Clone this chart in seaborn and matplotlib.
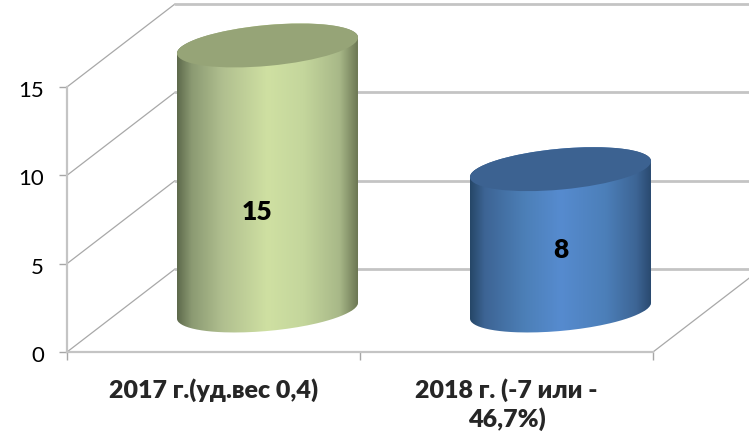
import numpy as np
import pandas as pd
import seaborn as sns
import matplotlib.pyplot as plt
from matplotlib.colors import LinearSegmentedColormap
from matplotlib.patches import Ellipse, PathPatch
from matplotlib.path import Path
from matplotlib.transforms import Affine2D, IdentityTransform

# data
categories = ['2017 г.(уд.вес 0,4)', '2018 г. (-7 или -\n46,7%)']
values = [15, 8]
value_labels = ['15', '8']
y_ticks = [0, 5, 10, 15]

# colours: bar base, top cap, side gradient
base_colors = ['#b8c898', '#4f81bd']
cap_colors = ['#96a477', '#3c6291']
side_colors = [
    [(0, '#5e6a4c'), (.08, '#8b9a72'), (.25, '#b0bf8f'), (.5, '#cfe0a2'),
     (.7, '#c4d69c'), (.9, '#a8b888'), (1, '#6d7854')],
    [(0, '#264768'), (.08, '#3d6494'), (.3, '#4c7fb7'), (.5, '#568bcf'),
     (.75, '#4c7fb9'), (.92, '#3d6595'), (1, '#2a4a70')],
]

W, H = 749, 436
sns.set_style('white')
plt.rcParams['font.family'] = ['Lato', 'Open Sans', 'DejaVu Sans']

fig = plt.figure(figsize=(W / 100, H / 100), dpi=100)

# front plane of the 3d box, in pixels
x0, x1, y0, px_per_unit = 67, 653, 352, 17.67
depth_px_x, depth_px_y = 108, 83
h15 = 15 * px_per_unit


def place(left, bottom):
    return [left / W, (H - bottom) / H, (x1 - x0) / W, h15 / H]


ax = fig.add_axes(place(x0, y0))
ax.set_xlim(0, 2)
ax.set_ylim(0, 15)
ax.patch.set_alpha(0)
sns.despine(ax=ax)
grid_c = '#c4c4c4'
for s in ['left', 'bottom']:
    ax.spines[s].set_color(grid_c)
    ax.spines[s].set_linewidth(1.6)
ax.set_yticks(y_ticks)
ax.set_xticks([0, 1, 2])
ax.set_xticklabels([])
ax.set_xticks([0.5, 1.5], labels=categories, minor=True, fontweight='heavy',
              linespacing=1.25, va='top')
ax.tick_params(axis='both', which='major', length=5.5, width=1, color='#a6a6a6',
               left=True, bottom=True, labelsize=16, labelcolor='black')
ax.tick_params(axis='y', pad=11)
ax.tick_params(axis='x', which='minor', length=0, pad=19, labelsize=18)
# numbers sit a little below their ticks in the original
for t in ax.get_yticklabels():
    t.set_transform(t.get_transform() + Affine2D().translate(0, -2))

# walls of the box
dx = depth_px_x / ((x1 - x0) / 2)
dy = depth_px_y / px_per_unit
for v in y_ticks:
    ax.plot([0, dx], [v, v + dy], color='#a8a8a8', lw=0.9, clip_on=False, zorder=1)
    ax.plot([dx, 2 + dx], [v + dy, v + dy], color=grid_c, lw=2, clip_on=False, zorder=1)
ax.plot([2, 2 + dx], [0, dy], color='#a8a8a8', lw=0.9, clip_on=False, zorder=1)

# bars sit half way into the depth of the box
ax2 = fig.add_axes(place(x0 + depth_px_x / 2, y0 - depth_px_y / 2))
ax2.set_zorder(3)
ax2.patch.set_alpha(0)
df = pd.DataFrame({'cat': categories, 'val': values})
sns.barplot(data=df, x='cat', y='val', hue='cat', palette=base_colors, width=0.617,
            legend=False, saturation=1, ax=ax2)
ax2.set_xlim(-0.5, 1.5)
ax2.set_ylim(0, 15)
ax2.axis('off')

# tilt of the elliptical ends
a, b, tilt = 90.9, 20.4, np.radians(5.3)
t0 = np.arctan(-(b / a) * np.tan(tilt))


def arc(cx, cy, start):
    t = np.linspace(start, start + np.pi, 80)
    ex = cx + a * np.cos(t) * np.cos(tilt) - b * np.sin(t) * np.sin(tilt)
    ey = cy + a * np.cos(t) * np.sin(tilt) + b * np.sin(t) * np.cos(tilt)
    return np.column_stack([ex, ey])


fig.canvas.draw()
for i, bar in enumerate(list(ax2.patches)):
    mid = bar.get_x() + bar.get_width() / 2
    cx, cy_top = ax2.transData.transform((mid, bar.get_height()))
    _, cy_bot = ax2.transData.transform((mid, 0))

    outline = np.vstack([arc(cx, cy_bot, t0 + np.pi), arc(cx, cy_top, t0)])
    outline = np.vstack([outline, outline[:1]])
    clip = PathPatch(Path(outline), transform=IdentityTransform(), fc='none', ec='none')
    ax2.add_patch(clip)
    bar.set_clip_box(None)
    bar.set_clip_path(clip)

    cmap = LinearSegmentedColormap.from_list('side', side_colors[i])
    grad = np.linspace(0, 1, 256).reshape(1, -1)
    left, right = bar.get_x(), bar.get_x() + bar.get_width()
    im = ax2.imshow(grad, cmap=cmap, aspect='auto', extent=[left, right, -3, 17], zorder=3)
    # images get cut to the axes unless the clip box is wider
    im.set_clip_box(fig.bbox)
    im.set_clip_path(clip)

    ax2.add_patch(Ellipse((cx, cy_top), 2 * a, 2 * b, angle=np.degrees(tilt), clip_on=False,
                          transform=IdentityTransform(), fc=cap_colors[i], ec='none', zorder=4))

ax2.set_xlim(-0.5, 1.5)
ax2.set_ylim(0, 15)

label_x = [-0.034, 1]
label_y = [5.6, 3.4]
for x, y, s in zip(label_x, label_y, value_labels):
    ax2.text(x, y, s, ha='center', va='center', fontsize=19, fontweight='heavy',
             color='black', zorder=5)

fig.savefig('out.png', dpi=100)
